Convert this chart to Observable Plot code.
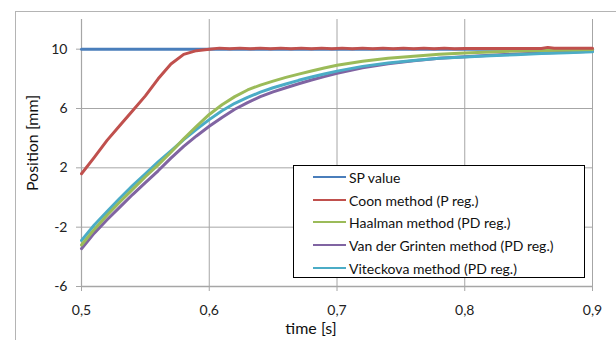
<!DOCTYPE html>
<html>
<head>
<meta charset="utf-8">
<script src="https://cdn.jsdelivr.net/npm/d3@7"></script>
<script src="https://cdn.jsdelivr.net/npm/@observablehq/plot@0.6"></script>
<style>
  html, body { margin: 0; padding: 0; background: #fff; }
  #wrap { position: relative; width: 616px; height: 340px; overflow: hidden; font-family: Lato, "Open Sans", sans-serif; }
  #frame { position: absolute; left: 15px; top: 11px; width: 700px; height: 400px; border-left: 1px solid #b4b4b4; border-top: 1px solid #b4b4b4; }
  #legend { position: absolute; left: 293px; top: 165px; width: 290px; height: 111px; border: 1px solid #000; background: #fff; }
  .row { position: absolute; left: 0; height: 20px; display: flex; align-items: center; font-size: 14px; color: #111; white-space: nowrap; }
  .sw { width: 33px; height: 2px; margin-left: 19px; margin-right: 3px; }
  svg { position: absolute; left: 0; top: 0; }
  .title { position: absolute; font-size: 16px; color: #111; white-space: nowrap; line-height: 20px; }
</style>
</head>
<body>
<div id="wrap"><div id="frame"></div></div>
<script>
// ---- data ----
const seriesNames = ["SP value", "Coon method (P reg.)", "Haalman method (PD reg.)", "Van der Grinten method (PD reg.)", "Viteckova method (PD reg.)"];
const seriesColors = ["#4a7ebb", "#c0504d", "#9bbb59", "#8064a2", "#4bacc6"];

const spTime = [0.5, 0.9];
const spValue = [10, 10];

const coonTime = [0.50, 0.51, 0.52, 0.53, 0.54, 0.55, 0.56, 0.57, 0.58, 0.59, 0.60, 0.608, 0.616, 0.624, 0.632, 0.640, 0.648, 0.656, 0.664, 0.672, 0.680, 0.688, 0.696, 0.704, 0.712, 0.720, 0.728, 0.736, 0.744, 0.752, 0.760, 0.768, 0.776, 0.784, 0.792, 0.80, 0.82, 0.84, 0.86, 0.865, 0.87, 0.90];
const coonValue = [1.6, 2.7, 3.85, 4.85, 5.85, 6.85, 8.0, 9.0, 9.65, 9.9, 10.0, 10.07, 10.02, 10.07, 10.02, 10.07, 10.02, 10.07, 10.02, 10.07, 10.02, 10.07, 10.02, 10.07, 10.02, 10.07, 10.02, 10.07, 10.02, 10.07, 10.02, 10.07, 10.02, 10.07, 10.02, 10.04, 10.04, 10.04, 10.04, 10.12, 10.06, 10.06];

const methodTime = [0.50, 0.51, 0.52, 0.53, 0.54, 0.55, 0.56, 0.57, 0.58, 0.59, 0.60, 0.61, 0.62, 0.63, 0.64, 0.65, 0.66, 0.67, 0.68, 0.69, 0.70, 0.72, 0.74, 0.76, 0.78, 0.80, 0.82, 0.84, 0.86, 0.88, 0.90];
const haalmanValue = [-3.2, -2.15, -1.2, -0.3, 0.55, 1.4, 2.2, 3.05, 3.95, 4.8, 5.6, 6.25, 6.8, 7.25, 7.58, 7.85, 8.1, 8.32, 8.53, 8.73, 8.92, 9.18, 9.38, 9.53, 9.65, 9.74, 9.81, 9.87, 9.91, 9.94, 9.97];
const grintenValue = [-3.45, -2.4, -1.5, -0.65, 0.2, 1.0, 1.8, 2.65, 3.45, 4.15, 4.8, 5.4, 5.95, 6.4, 6.8, 7.12, 7.4, 7.67, 7.92, 8.15, 8.38, 8.75, 9.02, 9.22, 9.38, 9.49, 9.59, 9.67, 9.74, 9.8, 9.86];
const viteckovaValue = [-2.9, -1.85, -0.95, -0.05, 0.8, 1.6, 2.4, 3.15, 3.9, 4.6, 5.25, 5.85, 6.35, 6.75, 7.1, 7.4, 7.65, 7.9, 8.12, 8.33, 8.52, 8.84, 9.07, 9.24, 9.38, 9.47, 9.56, 9.63, 9.7, 9.76, 9.82];

const xTicks = [0.5, 0.6, 0.7, 0.8, 0.9];
const xTickLabels = ["0,5", "0,6", "0,7", "0,8", "0,9"];
const yTicks = [-6, -2, 2, 6, 10];
const yTickLabels = ["-6", "-2", "2", "6", "10"];
const xLabel = "time [s]";
const yLabel = "Position [mm]";

// ---- build rows ----
const toRows = (name, ts, vs) => ts.map((t, i) => ({series: name, t, v: vs[i]}));
const seriesData = [
  toRows(seriesNames[0], spTime, spValue),
  toRows(seriesNames[1], coonTime, coonValue),
  toRows(seriesNames[2], methodTime, haalmanValue),
  toRows(seriesNames[3], methodTime, grintenValue),
  toRows(seriesNames[4], methodTime, viteckovaValue)
];
// drawing order: SP first; Coon last so it lies over the SP line
const drawOrder = [0, 3, 4, 2, 1];

const font = "Lato, 'Open Sans', sans-serif";
const grid = "#a6a6a6";

const chart = Plot.plot({
  width: 616,
  height: 340,
  marginLeft: 81,
  marginRight: 24,
  marginTop: 19,
  marginBottom: 54,
  style: {fontFamily: font, fontSize: "14px", color: "#222", background: "transparent", overflow: "visible"},
  x: {domain: [0.5, 0.9]},
  y: {domain: [-6, 12]},
  marks: [
    Plot.gridY(yTicks.filter(d => d !== -6), {stroke: grid, strokeOpacity: 1, strokeWidth: 1}),
    Plot.gridX(xTicks.filter(d => d !== 0.5), {stroke: grid, strokeOpacity: 1, strokeWidth: 1}),
    Plot.ruleX([0.5], {stroke: grid, strokeWidth: 1.2}),
    Plot.ruleY([-6], {stroke: grid, strokeWidth: 1.5}),
    Plot.axisX({ticks: xTicks, tickFormat: d => xTickLabels[xTicks.indexOf(d)], tickSize: 5, tickPadding: 14, stroke: grid, fontSize: 14, label: null}),
    Plot.axisY({ticks: yTicks, tickFormat: d => yTickLabels[yTicks.indexOf(d)], tickSize: 5, tickPadding: 9, stroke: grid, fontSize: 14, label: null}),
    ...drawOrder.map(i => Plot.line(seriesData[i], {x: "t", y: "v", stroke: seriesColors[i], strokeWidth: 3, curve: "linear"}))
  ]
});

const wrap = document.getElementById("wrap");
wrap.appendChild(chart);

// axis titles
const xt = document.createElement("div");
xt.className = "title";
xt.textContent = xLabel;
xt.style.left = "311px";
xt.style.top = "328px";
xt.style.transform = "translate(-50%, -50%)";
wrap.appendChild(xt);

const yt = document.createElement("div");
yt.className = "title";
yt.textContent = yLabel;
yt.style.left = "32px";
yt.style.top = "143px";
yt.style.transform = "translate(-50%, -50%) rotate(-90deg)";
wrap.appendChild(yt);

// legend
const legend = document.createElement("div");
legend.id = "legend";
const rowTops = [1, 24, 46, 69, 92];
seriesNames.forEach((name, i) => {
  const row = document.createElement("div");
  row.className = "row";
  row.style.top = rowTops[i] + "px";
  const sw = document.createElement("div");
  sw.className = "sw";
  sw.style.background = seriesColors[i];
  const label = document.createElement("span");
  label.textContent = name;
  row.appendChild(sw);
  row.appendChild(label);
  legend.appendChild(row);
});
wrap.appendChild(legend);
</script>
</body>
</html>
